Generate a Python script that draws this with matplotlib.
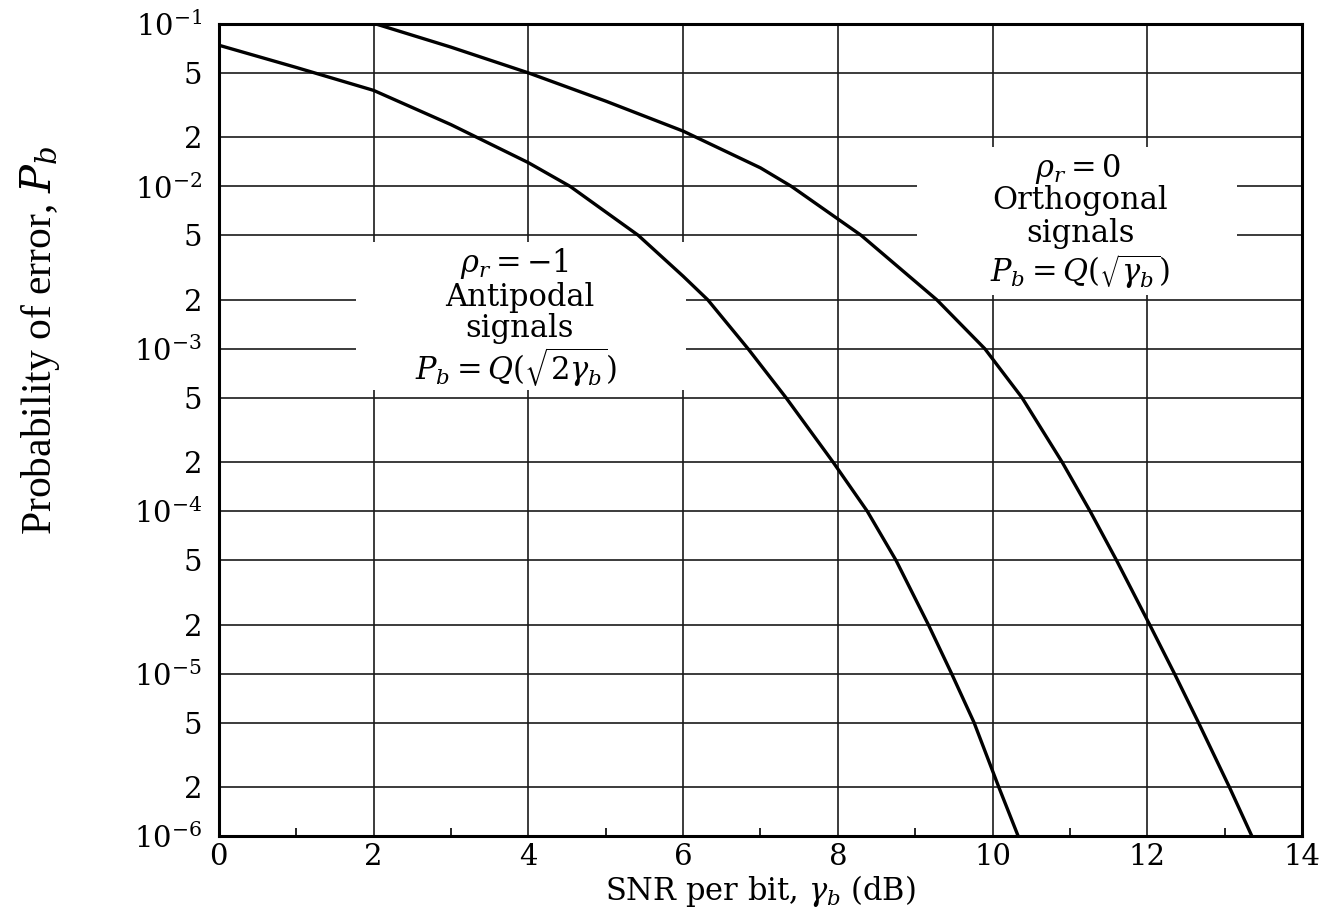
import numpy as np
import matplotlib
matplotlib.use("Agg")
import matplotlib.pyplot as plt
from matplotlib.patches import Rectangle

plt.rcParams["font.family"] = "DejaVu Serif"
plt.rcParams["mathtext.fontset"] = "dejavuserif"

# Bit error probability vs SNR per bit
snr_antipodal = [0.0, 1.0, 2.0, 3.0, 4.0, 4.54, 5.42, 6.0, 6.32, 6.84, 7.33,
                 7.94, 8.38, 8.75, 9.17, 9.47, 9.76, 10.08, 10.33]
pb_antipodal = [7.4e-2, 5.4e-2, 3.9e-2, 2.4e-2, 1.4e-2, 1e-2, 5e-3, 2.8e-3, 2e-3,
                1e-3, 5e-4, 2e-4, 1e-4, 5e-5, 2e-5, 1e-5, 5e-6, 2e-6, 1e-6]

snr_orthogonal = [2.03, 3.0, 4.0, 5.0, 6.0, 7.0, 7.4, 8.3, 9.28, 9.9, 10.38,
                  10.9, 11.26, 11.6, 12.03, 12.35, 12.66, 13.06, 13.35]
pb_orthogonal = [1e-1, 7.2e-2, 5e-2, 3.35e-2, 2.19e-2, 1.3e-2, 1e-2, 5e-3, 2e-3,
                 1e-3, 5e-4, 2e-4, 1e-4, 5e-5, 2e-5, 1e-5, 5e-6, 2e-6, 1e-6]

ytick_vals = [1e-1, 5e-2, 2e-2, 1e-2, 5e-3, 2e-3, 1e-3, 5e-4, 2e-4, 1e-4,
              5e-5, 2e-5, 1e-5, 5e-6, 2e-6, 1e-6]
ytick_labels = [r"$10^{-1}$", "5", "2", r"$10^{-2}$", "5", "2", r"$10^{-3}$",
                "5", "2", r"$10^{-4}$", "5", "2", r"$10^{-5}$", "5", "2",
                r"$10^{-6}$"]
xtick_vals = [0, 2, 4, 6, 8, 10, 12, 14]

fig = plt.figure(figsize=(13.26, 9.11), dpi=100)
ax = fig.add_axes([0.165, 0.0823, 0.817, 0.8914])

ax.set_yscale("log")
ax.set_xlim(0, 14)
ax.set_ylim(1e-6, 1e-1)
ax.set_axisbelow(True)

ax.set_yticks(ytick_vals, ytick_labels)
ax.minorticks_off()
ax.set_xticks(xtick_vals, [str(v) for v in xtick_vals])
ax.set_xticks(np.arange(1, 14, 1), minor=True)
ax.tick_params(axis="both", which="major", length=0, labelsize=21)
ax.tick_params(axis="y", which="major", pad=12)
ax.tick_params(axis="x", which="major", pad=5)
ax.tick_params(axis="x", which="minor", direction="in", length=6, width=1.2,
               bottom=True, top=False)
ax.grid(True, which="major", color="#1a1a1a", linewidth=1.2)

for sp in ax.spines.values():
    sp.set_linewidth(2.2)

# white panels behind the curve labels break the grid
ax.add_patch(Rectangle((0.1265, 0.549), 0.3045, 0.183, transform=ax.transAxes,
                       facecolor="white", edgecolor="none", zorder=1))
ax.add_patch(Rectangle((0.6445, 0.666), 0.2955, 0.1825, transform=ax.transAxes,
                       facecolor="white", edgecolor="none", zorder=1))

ax.plot(snr_antipodal, pb_antipodal, color="black", linewidth=2.4, zorder=2)
ax.plot(snr_orthogonal, pb_orthogonal, color="black", linewidth=2.4, zorder=2)

tkw = dict(transform=ax.transAxes, ha="center", va="center", fontsize=22, zorder=3)
ax.text(0.273, 0.705, r"$\rho_r = -1$", **tkw)
ax.text(0.278, 0.663, "Antipodal", **tkw)
ax.text(0.278, 0.625, "signals", **tkw)
ax.text(0.275, 0.577, r"$P_b = Q(\sqrt{2\gamma_b})$", **tkw)

ax.text(0.793, 0.822, r"$\rho_r = 0$", **tkw)
ax.text(0.795, 0.782, "Orthogonal", **tkw)
ax.text(0.795, 0.742, "signals", **tkw)
ax.text(0.795, 0.695, r"$P_b = Q(\sqrt{\gamma_b})$", **tkw)

ax.set_xlabel(r"SNR per bit, $\gamma_b$ (dB)", fontsize=22)
ax.xaxis.set_label_coords(0.4995, -0.068)
ax.xaxis.label.set_va("center")
ax.set_ylabel(r"Probability of error, $P_b$", fontsize=30,
              family="Liberation Serif")
ax.yaxis.set_label_coords(-0.165, 0.61)
ax.yaxis.label.set_va("center")

fig.savefig("out.png", dpi=100)
